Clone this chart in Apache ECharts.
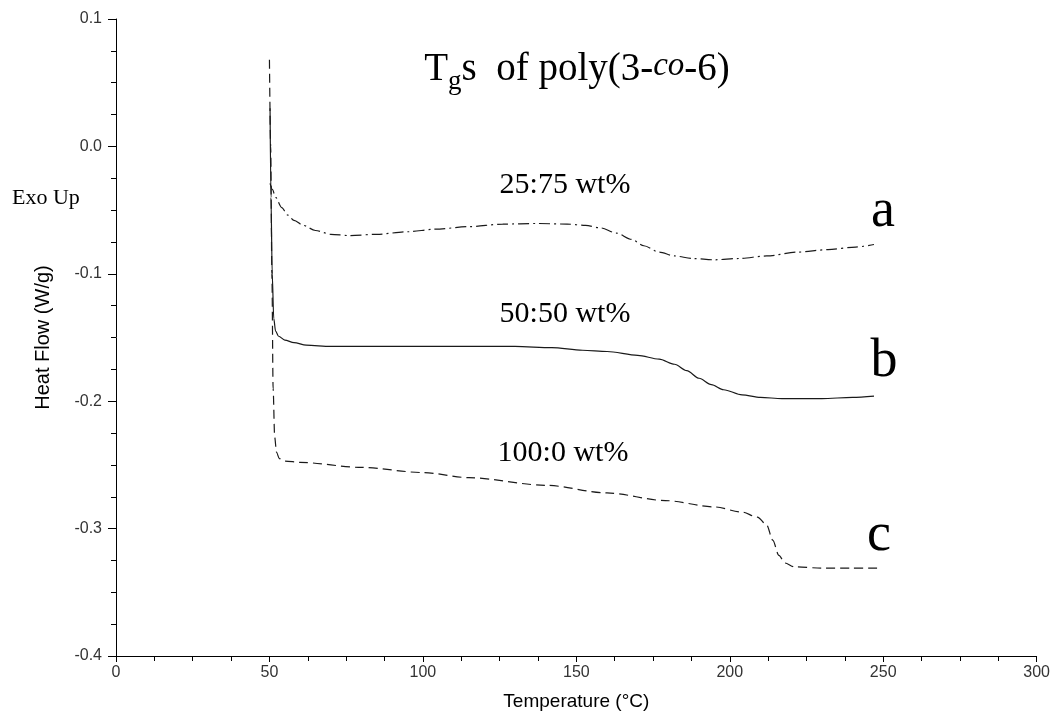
<!DOCTYPE html>
<html>
<head>
<meta charset="utf-8">
<script src="https://cdn.jsdelivr.net/npm/echarts@6/dist/echarts.min.js"></script>
<style>
html,body{margin:0;padding:0;background:#fff;}
#chart{width:1053px;height:716px;}
</style>
</head>
<body>
<div id="chart"></div>
<script>
// ---- data ----
const xTicks = [0, 50, 100, 150, 200, 250, 300];
const yTicks = [-0.4, -0.3, -0.2, -0.1, 0.0, 0.1];

// curve a: 25:75 wt% (dash-dot)
const tempA = [50.2, 51, 52, 54, 56, 58, 61, 65, 70, 76, 85, 95, 104, 115, 126, 137, 147, 153, 158, 163, 168, 172, 177, 182, 188, 195, 203, 212, 222, 232, 241, 247];
const flowA = [-0.029, -0.034, -0.040, -0.048, -0.054, -0.058, -0.062, -0.066, -0.069, -0.070, -0.069, -0.067, -0.065, -0.063, -0.061, -0.0605, -0.061, -0.062, -0.064, -0.068, -0.073, -0.078, -0.083, -0.086, -0.088, -0.089, -0.088, -0.086, -0.083, -0.081, -0.079, -0.077];

// curve b: 50:50 wt% (solid)
const tempB = [50.2, 50.5, 50.9, 51.4, 52, 53, 55, 58, 62, 70, 90, 110, 130, 142, 152, 160, 170, 177, 182, 186, 190, 194, 198, 204, 210, 217, 230, 240, 247];
const flowB = [0.03, -0.04, -0.10, -0.135, -0.145, -0.149, -0.152, -0.154, -0.156, -0.157, -0.157, -0.157, -0.157, -0.158, -0.160, -0.161, -0.164, -0.167, -0.171, -0.176, -0.182, -0.187, -0.191, -0.195, -0.197, -0.198, -0.198, -0.197, -0.196];

// curve c: 100:0 wt% (dashed)
const tempC = [50.0, 50.4, 50.8, 51.2, 51.7, 52.3, 53.2, 55, 60, 80, 100, 115, 140, 160, 179, 195, 204, 209, 212, 214, 216, 218, 221, 230, 240, 248];
const flowC = [0.068, 0.0, -0.10, -0.19, -0.228, -0.240, -0.245, -0.247, -0.248, -0.252, -0.256, -0.260, -0.266, -0.272, -0.278, -0.283, -0.287, -0.291, -0.297, -0.309, -0.321, -0.327, -0.330, -0.331, -0.331, -0.331];

const seriesNames = ['25:75 wt%', '50:50 wt%', '100:0 wt%'];
const curveLetters = ['a', 'b', 'c'];

function zip(xs, ys) { return xs.map((x, i) => [x, ys[i]]); }

const chart = echarts.init(document.getElementById('chart'), null, {renderer: 'canvas'});
const sansFont = '"Liberation Sans", Arial, sans-serif';
const serifFont = '"Liberation Serif", "Times New Roman", serif';
const lineColor = '#1a1a1a';

const option = {
  backgroundColor: '#fff',
  animation: false,
  grid: {left: 116, right: 14, top: 19, bottom: 57, containLabel: false},
  xAxis: {
    type: 'value',
    min: xTicks[0], max: xTicks[xTicks.length - 1], interval: xTicks[1] - xTicks[0],
    name: 'Temperature (°C)',
    nameLocation: 'middle',
    nameGap: 36,
    nameTextStyle: {fontFamily: sansFont, fontSize: 19, color: '#000'},
    axisLine: {show: true, onZero: false, lineStyle: {color: '#000', width: 1}},
    axisTick: {show: true, inside: false, length: 6, lineStyle: {color: '#000'}},
    minorTick: {show: true, splitNumber: 4, length: 5, lineStyle: {color: '#000'}},
    splitLine: {show: false},
    axisLabel: {fontFamily: sansFont, fontSize: 16, color: '#333', margin: 9}
  },
  yAxis: {
    type: 'value',
    min: yTicks[0], max: yTicks[yTicks.length - 1], interval: 0.1,
    name: 'Heat Flow (W/g)',
    nameLocation: 'middle',
    nameGap: 63,
    nameRotate: 90,
    nameTextStyle: {fontFamily: sansFont, fontSize: 20, color: '#000'},
    axisLine: {show: true, onZero: false, lineStyle: {color: '#000', width: 1}},
    axisTick: {show: true, inside: false, length: 8, lineStyle: {color: '#000'}},
    minorTick: {show: true, splitNumber: 4, length: 5, lineStyle: {color: '#000'}},
    splitLine: {show: false},
    axisLabel: {fontFamily: sansFont, fontSize: 16, color: '#333', margin: 14,
      formatter: v => (Math.abs(v) < 1e-9 ? '0.0' : v.toFixed(1))}
  },
  series: [
    {name: seriesNames[0], type: 'line', data: zip(tempA, flowA), showSymbol: false, smooth: 0.3, smoothMonotone: 'x',
     lineStyle: {color: lineColor, width: 1.2, type: [11, 4, 2, 4]}},
    {name: seriesNames[1], type: 'line', data: zip(tempB, flowB), showSymbol: false, smooth: 0.3, smoothMonotone: 'x',
     lineStyle: {color: lineColor, width: 1.2, type: 'solid'}},
    {name: seriesNames[2], type: 'line', data: zip(tempC, flowC), showSymbol: false, smooth: 0.3, smoothMonotone: 'x',
     lineStyle: {color: lineColor, width: 1.2, type: [9, 5]}}
  ],
  graphic: [
    {type: 'text', x: 577, y: 73, style: {
      text: '{m|T}{s|g}{m|s  of poly(3-}{i|co}{m|-6)}',
      align: 'center', verticalAlign: 'middle',
      rich: {
        m: {fontFamily: serifFont, fontSize: 39, fill: '#000', lineHeight: 46, verticalAlign: 'top'},
        s: {fontFamily: serifFont, fontSize: 27, fill: '#000', lineHeight: 27, padding: [18, 0, 0, 0], verticalAlign: 'top'},
        i: {fontFamily: serifFont, fontSize: 33, fontStyle: 'italic', fill: '#000', lineHeight: 46, verticalAlign: 'top'}
      }
    }},
    {type: 'text', x: 12, y: 198, style: {text: 'Exo Up', fontFamily: serifFont, fontSize: 22, fill: '#000', align: 'left', verticalAlign: 'middle'}},
    {type: 'text', x: 565, y: 185, style: {text: seriesNames[0], fontFamily: serifFont, fontSize: 30, fill: '#000', align: 'center', verticalAlign: 'middle'}},
    {type: 'text', x: 565, y: 314, style: {text: seriesNames[1], fontFamily: serifFont, fontSize: 30, fill: '#000', align: 'center', verticalAlign: 'middle'}},
    {type: 'text', x: 563, y: 453, style: {text: seriesNames[2], fontFamily: serifFont, fontSize: 30, fill: '#000', align: 'center', verticalAlign: 'middle'}},
    {type: 'text', x: 883, y: 212, style: {text: curveLetters[0], fontFamily: serifFont, fontSize: 54, fill: '#000', align: 'center', verticalAlign: 'middle'}},
    {type: 'text', x: 884, y: 362, style: {text: curveLetters[1], fontFamily: serifFont, fontSize: 54, fill: '#000', align: 'center', verticalAlign: 'middle'}},
    {type: 'text', x: 879, y: 536, style: {text: curveLetters[2], fontFamily: serifFont, fontSize: 54, fill: '#000', align: 'center', verticalAlign: 'middle'}}
  ]
};
chart.setOption(option);
</script>
</body>
</html>
